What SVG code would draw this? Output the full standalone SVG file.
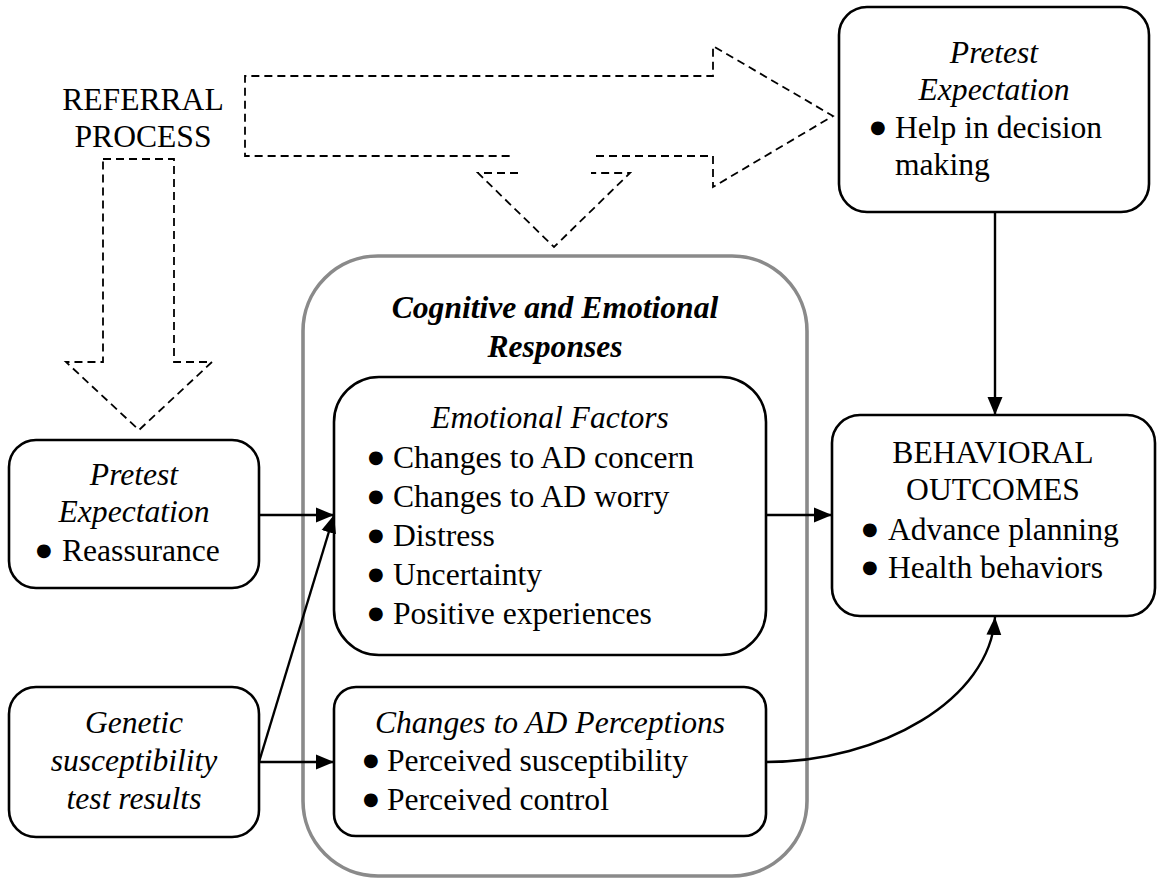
<svg xmlns="http://www.w3.org/2000/svg" width="1157" height="880" viewBox="0 0 1157 880">
  <defs>
    <marker id="arrow" markerUnits="userSpaceOnUse" markerWidth="18" markerHeight="16" refX="18" refY="8" orient="auto">
      <path d="M0,0.5 L18,8 L0,15.5 Z" fill="#000"/>
    </marker>
    <style>
      .t{font-family:"Liberation Serif","Times New Roman",serif;font-size:31.6px;fill:#000}
      .i{font-style:italic}
      .bi{font-style:italic;font-weight:bold}
      .c{text-anchor:middle}
      .dot{font-family:"DejaVu Sans",sans-serif;font-size:18px}
      .box{fill:#fff;stroke:#000;stroke-width:2.6}
      .frame{fill:#fff;stroke:#8a8a8a;stroke-width:3.6}
      .dash{fill:none;stroke:#000;stroke-width:1.8;stroke-dasharray:8 5}
      .link{fill:none;stroke:#000;stroke-width:2.4}
    </style>
  </defs>
  <rect width="1157" height="880" fill="#fff"/>

  <!-- referral process: label and dashed block arrows -->
  <g id="referral">
    <text class="t c" x="143" y="110">REFERRAL</text>
    <text class="t c" x="143" y="147">PROCESS</text>
    <path class="dash" d="M596,156 H713 V187 L833,116 L713,46 V76 H245 V156 H513"/>
    <path class="dash" d="M518,173 H478 L554,247 L630,173 H591"/>
    <path class="dash" d="M103,159 H174 V362 H212 L139,430 L66,362 H103 Z"/>
  </g>

  <!-- pretest expectation (decision making) -->
  <g id="pretest-decision">
    <rect class="box" x="839" y="7" width="310" height="205" rx="28"/>
    <text class="t i c" x="994" y="63">Pretest</text>
    <text class="t i c" x="994" y="100">Expectation</text>
    <text class="t" y="138"><tspan class="dot" x="870" dy="-5">●</tspan><tspan x="895" dy="5">Help in decision</tspan></text>
    <text class="t" x="895" y="175">making</text>
  </g>

  <!-- pretest expectation (reassurance) -->
  <g id="pretest-reassurance">
    <rect class="box" x="9" y="440" width="250" height="148" rx="27"/>
    <text class="t i c" x="134" y="485">Pretest</text>
    <text class="t i c" x="134" y="522">Expectation</text>
    <text class="t" y="561"><tspan class="dot" x="36" dy="-5">●</tspan><tspan x="62" dy="5">Reassurance</tspan></text>
  </g>

  <!-- genetic test results -->
  <g id="genetic-results">
    <rect class="box" x="9" y="687" width="250" height="150" rx="27"/>
    <text class="t i c" x="134" y="733">Genetic</text>
    <text class="t i c" x="134" y="771">susceptibility</text>
    <text class="t i c" x="134" y="809">test results</text>
  </g>

  <!-- cognitive and emotional responses container -->
  <g id="responses">
    <rect class="frame" x="303" y="256" width="504" height="620" rx="75"/>
    <text class="t bi c" x="555" y="318">Cognitive and Emotional</text>
    <text class="t bi c" x="555" y="357">Responses</text>
  </g>

  <g id="emotional-factors">
    <rect class="box" x="334" y="377" width="432" height="278" rx="45"/>
    <text class="t i c" x="550" y="428">Emotional Factors</text>
    <text class="t" y="468"><tspan class="dot" x="368" dy="-5">●</tspan><tspan x="393" dy="5">Changes to AD concern</tspan></text>
    <text class="t" y="507"><tspan class="dot" x="368" dy="-5">●</tspan><tspan x="393" dy="5">Changes to AD worry</tspan></text>
    <text class="t" y="546"><tspan class="dot" x="368" dy="-5">●</tspan><tspan x="393" dy="5">Distress</tspan></text>
    <text class="t" y="585"><tspan class="dot" x="368" dy="-5">●</tspan><tspan x="393" dy="5">Uncertainty</tspan></text>
    <text class="t" y="624"><tspan class="dot" x="368" dy="-5">●</tspan><tspan x="393" dy="5">Positive experiences</tspan></text>
  </g>

  <g id="ad-perceptions">
    <rect class="box" x="334" y="687" width="432" height="149" rx="22"/>
    <text class="t i c" x="550" y="733">Changes to AD Perceptions</text>
    <text class="t" y="771"><tspan class="dot" x="363" dy="-5">●</tspan><tspan x="387" dy="5">Perceived susceptibility</tspan></text>
    <text class="t" y="810"><tspan class="dot" x="363" dy="-5">●</tspan><tspan x="387" dy="5">Perceived control</tspan></text>
  </g>

  <!-- behavioral outcomes -->
  <g id="behavioral-outcomes">
    <rect class="box" x="832" y="415" width="323" height="201" rx="28"/>
    <text class="t c" x="993" y="463">BEHAVIORAL</text>
    <text class="t c" x="993" y="500">OUTCOMES</text>
    <text class="t" y="540"><tspan class="dot" x="862" dy="-5">●</tspan><tspan x="888" dy="5">Advance planning</tspan></text>
    <text class="t" y="578"><tspan class="dot" x="862" dy="-5">●</tspan><tspan x="888" dy="5">Health behaviors</tspan></text>
  </g>

  <!-- connectors -->
  <g id="connectors">
    <path class="link" d="M259,515 H334" marker-end="url(#arrow)"/>
    <path class="link" d="M259,762 L334,515" marker-end="url(#arrow)"/>
    <path class="link" d="M259,762 H334" marker-end="url(#arrow)"/>
    <path class="link" d="M766,515 H832" marker-end="url(#arrow)"/>
    <path class="link" d="M995,212 V415" marker-end="url(#arrow)"/>
    <path class="link" d="M766,762 C880,762 990,700 995,617" marker-end="url(#arrow)"/>
  </g>
</svg>
